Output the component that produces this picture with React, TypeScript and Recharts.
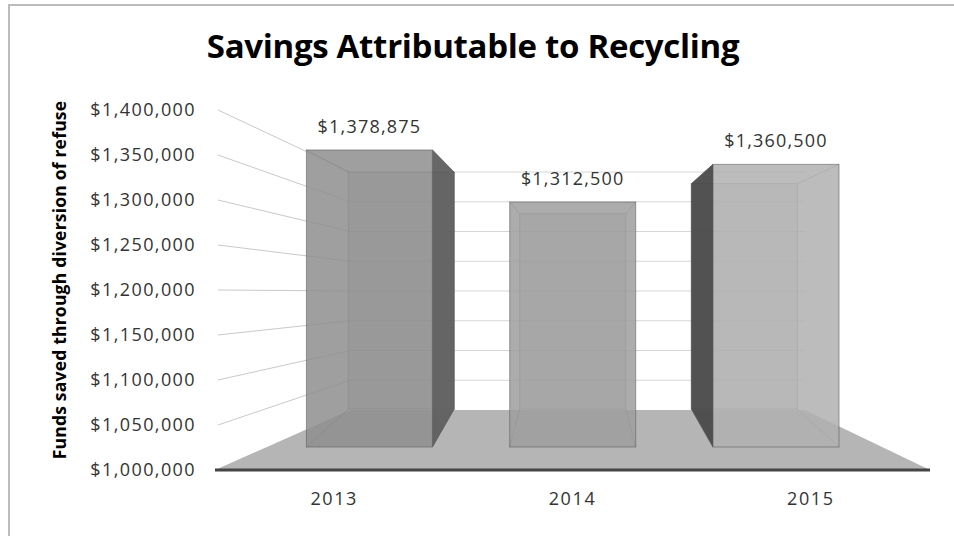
import React from "react";
import { BarChart, Bar, XAxis, YAxis, CartesianGrid, LabelList } from "recharts";

const years = ["2013", "2014", "2015"];
const savings = [1378875, 1312500, 1360500];
const yTicks = [1000000, 1050000, 1100000, 1150000, 1200000, 1250000, 1300000, 1350000, 1400000];

const data = years.map((year, i) => ({ year, savings: savings[i] }));

// layout, in chart coords (chart sits at page 8,8)
const W = 946;
const H = 528;
const PLOT_TOP = 102;
const PLOT_BOTTOM = 462;
const PLOT_H = PLOT_BOTTOM - PLOT_TOP;

// fake 3D projection
const VX = 565;
const FRONT_K = 0.853;
const BACK_K = 0.72;
const FRONT_W = 126;
const BACK_W = 106;
const FRONT_BASE = 439;
const FRONT_SPAN = 313.6;
const BACK_BASE = 401;
const BACK_SPAN = 250;
const WALL_LEFT = 342;
const WALL_RIGHT = 797;
const WALL_BASE = 402;
const WALL_SPAN = 238;
const SIDE_X = 210;

const frontColors = ["#8e8e8e", "#9d9d9d", "#b0b0b0"];
const sideColors = ["#5f5f5f", "#777777", "#4a4a4a"];

const font = "'Open Sans', 'DejaVu Sans', sans-serif";

const money = (v: number) => "$" + v.toLocaleString("en-US");

const project = (x: number, width: number, height: number) => {
  const f = height / PLOT_H;
  const cx = x + width / 2;
  const fc = VX + (cx - VX) * FRONT_K;
  const bc = VX + (cx - VX) * BACK_K;
  return {
    fc,
    fx1: fc - FRONT_W / 2,
    fx2: fc + FRONT_W / 2,
    fy1: FRONT_BASE - f * FRONT_SPAN,
    fy2: FRONT_BASE,
    bx1: bc - BACK_W / 2,
    bx2: bc + BACK_W / 2,
    by1: BACK_BASE - f * BACK_SPAN,
    by2: BACK_BASE,
  };
};

const Box3D = (props: any) => {
  const { x, width, height, index } = props;
  if (height == null || isNaN(height)) return null;
  const p = project(x, width, height);
  const edge = "rgba(90,90,90,0.55)";
  const col = frontColors[index % frontColors.length];
  let side = null;
  if (p.fc < VX - 10) {
    side = (
      <polygon
        points={`${p.fx2},${p.fy1} ${p.bx2},${p.by1} ${p.bx2},${p.by2} ${p.fx2},${p.fy2}`}
        fill={sideColors[index]}
        fillOpacity={0.95}
        stroke={edge}
      />
    );
  } else if (p.fc > VX + 10) {
    side = (
      <polygon
        points={`${p.bx1},${p.by1} ${p.fx1},${p.fy1} ${p.fx1},${p.fy2} ${p.bx1},${p.by2}`}
        fill={sideColors[index]}
        fillOpacity={0.95}
        stroke={edge}
      />
    );
  }
  return (
    <g>
      <rect
        x={p.bx1}
        y={p.by1}
        width={p.bx2 - p.bx1}
        height={p.by2 - p.by1}
        fill={col}
        fillOpacity={0.35}
        stroke={edge}
      />
      <line x1={p.fx1} y1={p.fy1} x2={p.bx1} y2={p.by1} stroke={edge} />
      <line x1={p.fx2} y1={p.fy1} x2={p.bx2} y2={p.by1} stroke={edge} />
      <line x1={p.fx1} y1={p.fy2} x2={p.bx1} y2={p.by2} stroke={edge} />
      <line x1={p.fx2} y1={p.fy2} x2={p.bx2} y2={p.by2} stroke={edge} />
      {side}
      <rect
        x={p.fx1}
        y={p.fy1}
        width={FRONT_W}
        height={p.fy2 - p.fy1}
        fill={col}
        fillOpacity={0.85}
        stroke={edge}
      />
    </g>
  );
};

const BarValue = (props: any) => {
  const { x, width, height, value } = props;
  const p = project(x, width, height);
  return (
    <text
      x={p.fc}
      y={p.fy1 - 17}
      textAnchor="middle"
      fontFamily={font}
      fontSize={18}
      letterSpacing={1.2}
      fill="#333"
    >
      {money(value)}
    </text>
  );
};

// back wall + left wall lines, floor drawn under the lowest one
const WallLine = (props: any) => {
  const { y1, index } = props;
  const f = (PLOT_BOTTOM - y1) / PLOT_H;
  const wy = WALL_BASE - f * WALL_SPAN;
  if (f < 0.01) {
    return (
      <polygon
        key={`floor-${index}`}
        points={`207,${PLOT_BOTTOM} 922,${PLOT_BOTTOM} ${WALL_RIGHT},${WALL_BASE} ${WALL_LEFT},${WALL_BASE}`}
        fill="#b5b5b5"
      />
    );
  }
  return (
    <g key={`wall-${index}`}>
      <line x1={SIDE_X} y1={y1} x2={WALL_LEFT} y2={wy} stroke="#c9c9c9" />
      <line x1={WALL_LEFT} y1={wy} x2={WALL_RIGHT} y2={wy} stroke="#d6d6d6" />
    </g>
  );
};

export default function App() {
  return (
    <div style={{ position: "relative", width: W, height: H }}>
      <BarChart
        width={W}
        height={H}
        data={data}
        margin={{ top: PLOT_TOP, right: 24, bottom: 36, left: 87 }}
      >
        <CartesianGrid vertical={false} horizontal={WallLine} />
        <XAxis
          dataKey="year"
          height={30}
          axisLine={{ stroke: "#454545", strokeWidth: 3 }}
          tickLine={false}
          tickMargin={16}
          tick={{ fontFamily: font, fontSize: 18, fill: "#333", letterSpacing: 1.6 }}
        />
        <YAxis
          width={120}
          domain={[1000000, 1400000]}
          ticks={yTicks}
          allowDataOverflow
          axisLine={false}
          tickLine={false}
          tickMargin={13}
          tickFormatter={money}
          tick={{ fontFamily: font, fontSize: 18, fill: "#333", letterSpacing: 1.4 }}
        />
        <Bar dataKey="savings" shape={Box3D} isAnimationActive={false}>
          <LabelList dataKey="savings" content={BarValue} />
        </Bar>
      </BarChart>
      <svg
        width={W}
        height={H}
        style={{ position: "absolute", left: 0, top: 0, pointerEvents: "none" }}
      >
        <text
          x={465}
          y={50}
          textAnchor="middle"
          fontFamily={font}
          fontWeight={700}
          fontSize={33}
          letterSpacing={-0.3}
          fill="#000"
        >
          Savings Attributable to Recycling
        </text>
        <text
          transform="translate(58,272) rotate(-90)"
          textAnchor="middle"
          fontFamily={font}
          fontWeight={700}
          fontSize={17.5}
          letterSpacing={0.2}
          fill="#000"
        >
          Funds saved through diversion of refuse
        </text>
      </svg>
      {/* frame of the original chart area */}
      <div
        style={{
          position: "fixed",
          left: 8,
          top: 4,
          width: W,
          height: H + 4,
          borderLeft: "2px solid #bcbcbc",
          borderTop: "2px solid #bcbcbc",
          boxSizing: "border-box",
          pointerEvents: "none",
        }}
      />
    </div>
  );
}
